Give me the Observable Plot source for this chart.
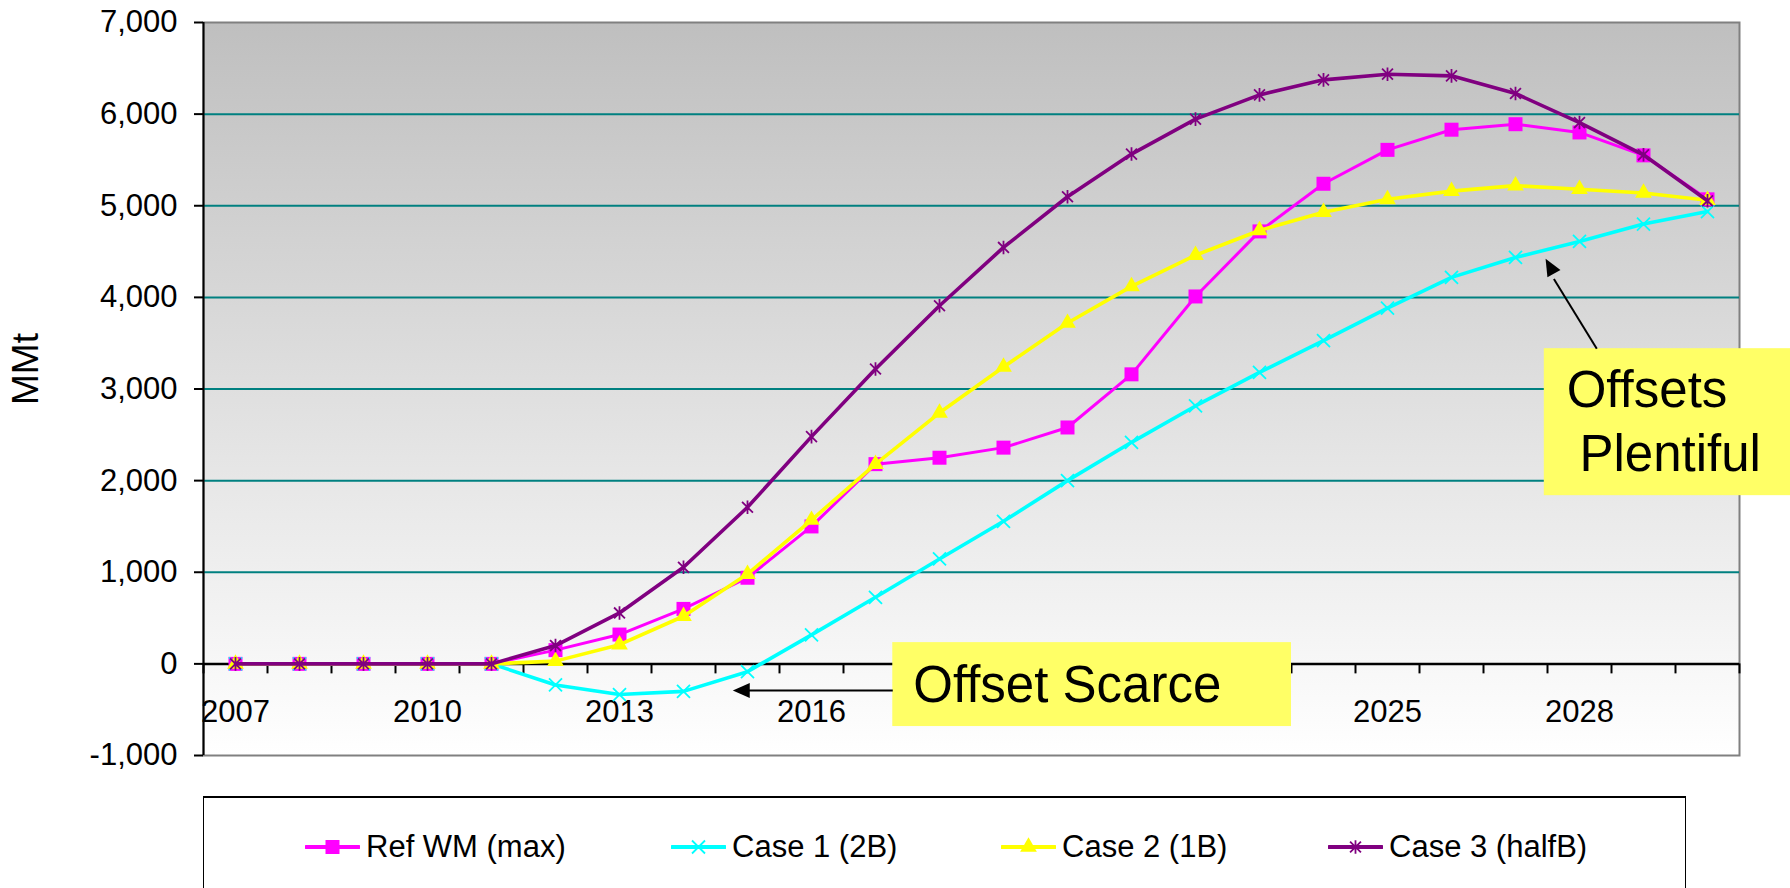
<!DOCTYPE html>
<html>
<head>
<meta charset="utf-8">
<script src="https://cdn.jsdelivr.net/npm/d3@7"></script>
<script src="https://cdn.jsdelivr.net/npm/@observablehq/plot@0.6"></script>
<style>
  body { margin: 0; background: #fff; font-family: "Liberation Sans", Arial, sans-serif; }
  #chart { position: relative; width: 1790px; height: 888px; overflow: hidden; }
  #chart svg { display: block; }
  #legend { position: absolute; left: 203px; top: 796px; width: 1483px; height: 160px;
            border-top: 2px solid #000; border-left: 1px solid #000; border-right: 1px solid #000;
            box-sizing: border-box; background: #fff; }
  .item { position: absolute; top: 29px; height: 40px; display: flex; align-items: center;
          font-size: 31px; color: #000; white-space: nowrap; }
  .item svg { margin-right: 6px; }
</style>
</head>
<body>
<div id="chart"></div>
<script>
// ---- data ----
const years = [2007, 2008, 2009, 2010, 2011, 2012, 2013, 2014, 2015, 2016, 2017, 2018,
               2019, 2020, 2021, 2022, 2023, 2024, 2025, 2026, 2027, 2028, 2029, 2030];
const refWM = [0, 0, 0, 0, 0, 150, 320, 600, 940, 1500, 2180, 2250,
               2360, 2580, 3160, 4010, 4720, 5240, 5610, 5830, 5890, 5800, 5550, 5070];
const case1 = [0, 0, 0, 0, 0, -230, -335, -300, -85, 316, 727, 1145,
               1556, 2000, 2418, 2815, 3181, 3527, 3883, 4218, 4436, 4610, 4800, 4937];
const case2 = [0, 0, 0, 0, 0, 30, 210, 520, 980, 1570, 2180, 2740,
               3240, 3720, 4120, 4460, 4730, 4930, 5070, 5160, 5220, 5180, 5140, 5060];
const case3 = [0, 0, 0, 0, 0, 200, 556, 1054, 1709, 2480, 3218, 3909,
               4545, 5098, 5564, 5945, 6210, 6374, 6436, 6418, 6225, 5908, 5556, 5054];
const seriesNames = ["Ref WM (max)", "Case 1 (2B)", "Case 2 (1B)", "Case 3 (halfB)"];
const seriesValues = [refWM, case1, case2, case3];
// visible category labels (2019 and 2022 are hidden behind the "Offset Scarce" box)
const xTickLabels = ["2007", "2010", "2013", "2016", "2025", "2028"];
const yTicks = [-1000, 0, 1000, 2000, 3000, 4000, 5000, 6000, 7000];
const gridValues = [1000, 2000, 3000, 4000, 5000, 6000];
const yLabel = "MMt";
const scarceText = "Offset Scarce";
const plentifulLines = ["Offsets", "Plentiful"];

// ---- styles ----
const timesSym = {draw(ctx, size) { const r = Math.sqrt(size / Math.PI);
  ctx.moveTo(-r, -r); ctx.lineTo(r, r); ctx.moveTo(-r, r); ctx.lineTo(r, -r); }};
const starSym = {draw(ctx, size) { const r = Math.sqrt(size / Math.PI), d = r * 0.8;
  ctx.moveTo(0, -r); ctx.lineTo(0, r); ctx.moveTo(-d, -d); ctx.lineTo(d, d);
  ctx.moveTo(-d, d); ctx.lineTo(d, -d); }};
const headSym = {draw(ctx) { ctx.moveTo(0, 0); ctx.lineTo(-7.5, 17); ctx.lineTo(7.5, 17); ctx.closePath(); }};
const styles = [
  {color: "#ff00ff", width: 3, symbol: "square", r: 7.9, fill: "#ff00ff", stroke: "#ff00ff", sw: 0},
  {color: "#00ffff", width: 3.6, symbol: timesSym, r: 6.5, fill: "none", stroke: "#00ffff", sw: 1.8},
  {color: "#ffff00", width: 3.6, symbol: "triangle", r: 6.2, fill: "#ffff00", stroke: "#ffff00", sw: 0},
  {color: "#800080", width: 3.6, symbol: starSym, r: 6.8, fill: "none", stroke: "#800080", sw: 1.8}
];

// ---- tables ----
const seriesRows = seriesValues.map((vals, i) => years.map((yr, j) => ({year: yr, value: vals[j], series: seriesNames[i]})));
const catEdges = years.map(y => y - 0.5).concat([years[years.length - 1] + 0.5]);

// annotation geometry in data coordinates
const scarceBox = [{x1: 2017.27, x2: 2023.5, y1: -684, y2: 232}];
const scarceArrow = [{x1: 2017.27, y1: -291, x2: 2015.0, y2: -291}];
const scarceHead = [{x: 2014.77, y: -291, rot: -90}];
const plentBox = [{x1: 2027.45, x2: 2031.4, y1: 1836, y2: 3440}];
const plentArrow = [{x1: 2028.27, y1: 3440, x2: 2027.6, y2: 4200}];
const plentHead = [{x: 2027.47, y: 4421, rot: -29.5}];

const seriesMarks = seriesRows.flatMap((rows, i) => {
  const s = styles[i];
  return [
    Plot.line(rows, {x: "year", y: "value", stroke: s.color, strokeWidth: s.width}),
    Plot.dot(rows, {x: "year", y: "value", symbol: s.symbol, r: s.r, fill: s.fill,
                    stroke: s.stroke, strokeWidth: s.sw})
  ];
});

const plot = Plot.plot({
  width: 1790,
  height: 796,
  marginLeft: 203,
  marginRight: 51,
  marginTop: 22,
  marginBottom: 41,
  style: {fontFamily: "'Liberation Sans', Arial, sans-serif", fontSize: "31px", background: "transparent", color: "#000"},
  x: {domain: [years[0] - 0.5, years[years.length - 1] + 0.5], axis: null},
  y: {domain: [yTicks[0], yTicks[yTicks.length - 1]], axis: null},
  marks: [
    Plot.frame({fill: "url(#bgGrad)", stroke: "#808080", strokeWidth: 2}),
    Plot.ruleY(gridValues, {stroke: "#008080", strokeWidth: 2}),
    Plot.ruleX(catEdges, {y1: 0, y2: 0, insetBottom: -10, stroke: "#000", strokeWidth: 2}),
    Plot.ruleY([0], {stroke: "#000", strokeWidth: 2.5}),
    Plot.text(xTickLabels, {x: d => +d, y: 0, text: d => d, dy: 48, fontSize: 31, fill: "#000"}),
    Plot.axisY({ticks: yTicks, tickSize: 9, tickPadding: 17, fontSize: 31, label: null,
                tickFormat: d => d.toLocaleString("en-US"), strokeWidth: 2}),
    Plot.ruleX([years[0] - 0.5], {stroke: "#000", strokeWidth: 2}),
    Plot.text([yLabel], {frameAnchor: "left", dx: -177, dy: 16, rotate: -90, fontSize: 37, fill: "#000"}),
    ...seriesMarks,
    Plot.rect(scarceBox, {x1: "x1", x2: "x2", y1: "y1", y2: "y2", fill: "#ffff66"}),
    Plot.text([scarceText], {x: 2017.59, y: -237, textAnchor: "start", fontSize: 51, fill: "#000"}),
    Plot.link(scarceArrow, {x1: "x1", y1: "y1", x2: "x2", y2: "y2", stroke: "#000", strokeWidth: 2}),
    Plot.dot(scarceHead, {x: "x", y: "y", rotate: "rot", symbol: headSym, fill: "#000", stroke: "none"}),
    Plot.rect(plentBox, {x1: "x1", x2: "x2", y1: "y1", y2: "y2", fill: "#ffff66"}),
    Plot.text([plentifulLines[0]], {x: 2027.8, y: 2981, textAnchor: "start", fontSize: 51, fill: "#000"}),
    Plot.text([plentifulLines[1]], {x: 2028.0, y: 2284, textAnchor: "start", fontSize: 51, fill: "#000"}),
    Plot.link(plentArrow, {x1: "x1", y1: "y1", x2: "x2", y2: "y2", stroke: "#000", strokeWidth: 2}),
    Plot.dot(plentHead, {x: "x", y: "y", rotate: "rot", symbol: headSym, fill: "#000", stroke: "none"})
  ]
});

// gradient background definition
const defs = d3.select(plot).insert("defs", ":first-child");
const grad = defs.append("linearGradient").attr("id", "bgGrad")
  .attr("x1", 0).attr("y1", 0).attr("x2", 0).attr("y2", 1);
grad.append("stop").attr("offset", "0%").attr("stop-color", "#bfbfbf");
grad.append("stop").attr("offset", "100%").attr("stop-color", "#ffffff");

const chart = document.getElementById("chart");
chart.appendChild(plot);

// ---- legend ----
const legend = d3.select(chart).append("div").attr("id", "legend");
const itemLefts = [101, 467, 797, 1124];
seriesNames.forEach((name, i) => {
  const s = styles[i];
  const item = legend.append("div").attr("class", "item").style("left", itemLefts[i] + "px");
  const sw = item.append("svg").attr("width", 55).attr("height", 24);
  sw.append("line").attr("x1", 1).attr("x2", 54).attr("y1", 12).attr("y2", 12)
    .attr("stroke", s.color).attr("stroke-width", 4).attr("stroke-linecap", "round");
  const symType = typeof s.symbol === "string"
    ? (s.symbol === "square" ? d3.symbolSquare : d3.symbolTriangle) : s.symbol;
  const sz = Math.PI * s.r * s.r;
  sw.append("path").attr("transform", "translate(27.5,12)")
    .attr("d", d3.symbol(symType, sz)())
    .attr("fill", s.fill).attr("stroke", s.stroke).attr("stroke-width", s.sw || 0);
  item.append("span").text(name);
});
</script>
</body>
</html>
